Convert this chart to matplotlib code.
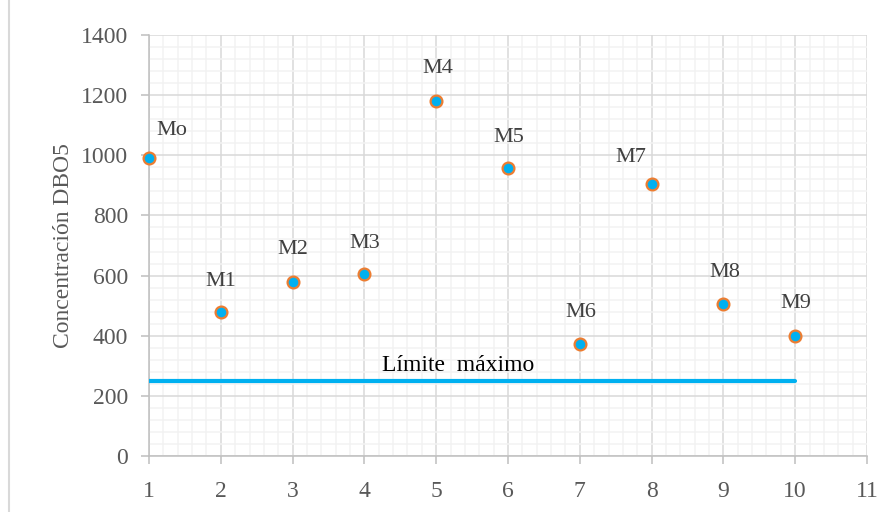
import matplotlib.pyplot as plt
from matplotlib.lines import Line2D
from matplotlib.ticker import MultipleLocator

# Muestras y concentración de DBO5
muestras = [1, 2, 3, 4, 5, 6, 7, 8, 9, 10]
dbo5 = [990, 480, 578, 605, 1182, 957, 372, 904, 507, 400]
etiquetas = ['Mo', 'M1', 'M2', 'M3', 'M4', 'M5', 'M6', 'M7', 'M8', 'M9']
limite = 250
limite_x = [1, 10]

# desplazamiento de cada etiqueta respecto a su punto (pixeles)
offsets = [(23, 28), (0, 30), (0, 33), (0, 31), (2, 32),
           (1, 31), (1, 32), (-21, 27), (1, 31), (1, 32)]

plt.rcParams['font.family'] = ['Liberation Serif', 'DejaVu Serif']

fig = plt.figure(figsize=(8.96, 5.12), dpi=100)
ax = fig.add_axes([0.1663, 0.1094, 0.8013, 0.8222])

ax.set_xlim(1, 11)
ax.set_ylim(0, 1400)
ax.xaxis.set_major_locator(MultipleLocator(1))
ax.xaxis.set_minor_locator(MultipleLocator(0.2))
ax.yaxis.set_major_locator(MultipleLocator(200))
ax.yaxis.set_minor_locator(MultipleLocator(40))

ax.grid(which='major', color='#D9D9D9', linewidth=1.1)
ax.grid(which='minor', color='#F2F2F2', linewidth=1.1)
ax.set_axisbelow(True)

for s in ['top', 'right']:
    ax.spines[s].set_visible(False)
for s in ['left', 'bottom']:
    ax.spines[s].set_color('#BFBFBF')
    ax.spines[s].set_linewidth(1.1)

ax.tick_params(which='major', length=6, color='#BFBFBF', width=1.1,
               labelsize=17, labelcolor='#595959')
ax.tick_params(axis='x', pad=12)
ax.tick_params(axis='y', pad=9)
ax.tick_params(which='minor', length=0)

ax.plot(limite_x, [limite, limite], color='#00B0F0', linewidth=3,
        solid_capstyle='round', zorder=3)
ax.text(5.3, limite + 15, 'Límite  máximo', fontsize=17, color='black',
        ha='center', va='bottom')

ax.plot(muestras, dbo5, linestyle='none', marker='o', markersize=8.5,
        markerfacecolor='#00B0F0', markeredgecolor='#ED7D31',
        markeredgewidth=1.6, zorder=4, clip_on=False)

for x, y, t, (dx, dy) in zip(muestras, dbo5, etiquetas, offsets):
    ax.annotate(t, (x, y), xytext=(dx, dy), textcoords='offset pixels',
                ha='center', va='center', fontsize=16, color='#404040')

ax.set_ylabel('Concentración DBO5', fontsize=17, color='#595959',
              labelpad=5)

# borde izquierdo del área del gráfico
fig.add_artist(Line2D([9 / 896, 9 / 896], [0, 1], color='#D9D9D9',
                      linewidth=1.5, transform=fig.transFigure))

fig.savefig('out.png', dpi=100)
